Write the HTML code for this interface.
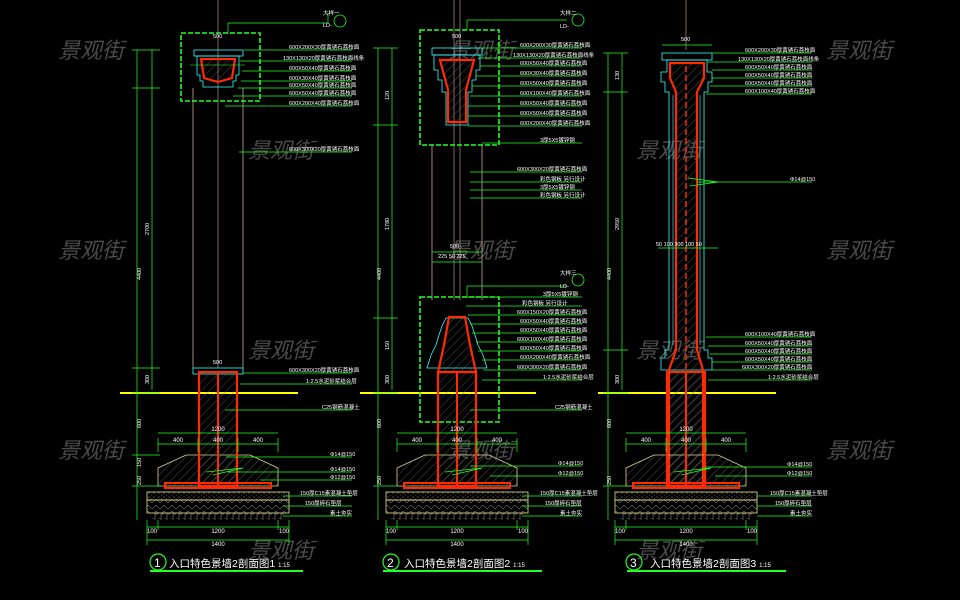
<!DOCTYPE html>
<html><head><meta charset="utf-8"><style>
html,body{margin:0;padding:0;background:#000;}
svg{display:block}
.t{font-family:"Liberation Sans","Noto Sans CJK SC",sans-serif;}
</style></head><body>
<svg width="960" height="600" viewBox="0 0 960 600" xmlns="http://www.w3.org/2000/svg" class="t">
<defs>
<pattern id="hatch" width="6" height="6" patternUnits="userSpaceOnUse" patternTransform="rotate(45)">
<line x1="0" y1="0" x2="0" y2="6" stroke="#777" stroke-width="0.6"/></pattern>
<pattern id="dots" width="5" height="4" patternUnits="userSpaceOnUse">
<circle cx="1" cy="1" r="0.5" fill="#bbb"/><circle cx="3.5" cy="3" r="0.4" fill="#999"/></pattern>
<pattern id="grav" width="8" height="6" patternUnits="userSpaceOnUse">
<path d="M0 3 Q2 0 4 3 T8 3" fill="none" stroke="#aaa" stroke-width="0.5"/></pattern>
<pattern id="soil" width="6" height="7" patternUnits="userSpaceOnUse">
<path d="M0 0 H3 V7 M3 3 H6" fill="none" stroke="#999" stroke-width="0.5"/></pattern>
<g id="foot">
<polygon points="-60,486 -60,468 -32,455 32,455 60,468 60,486" fill="url(#hatch)" stroke="#dcd890" stroke-width="0.8"/>
<rect x="-19" y="372" width="38" height="114" fill="url(#hatch)" stroke="#ff2a00" stroke-width="2.2"/>
<line x1="0" y1="372" x2="0" y2="486" stroke="#ff2a00" stroke-width="2"/>
<rect x="-53" y="483" width="106" height="5" fill="none" stroke="#ff2a00" stroke-width="2"/>
<rect x="-71" y="492" width="142" height="8" fill="url(#dots)" stroke="#e6e08a" stroke-width="0.8"/>
<rect x="-71" y="500" width="142" height="13" fill="url(#grav)" stroke="#e6e08a" stroke-width="0.8"/>
<rect x="-66" y="513" width="132" height="7" fill="url(#soil)"/>
<g stroke="#2f2" stroke-width="0.7" fill="none">
<line x1="-60" y1="444" x2="60" y2="444"/><line x1="-60" y1="438" x2="-60" y2="452"/><line x1="-20" y1="438" x2="-20" y2="452"/><line x1="20" y1="438" x2="20" y2="452"/><line x1="60" y1="438" x2="60" y2="452"/>
<line x1="-60" y1="433" x2="60" y2="433"/>
<line x1="-71" y1="527" x2="71" y2="527"/><line x1="-71" y1="540" x2="71" y2="540"/>
<line x1="-71" y1="520" x2="-71" y2="545"/><line x1="-60" y1="520" x2="-60" y2="530"/><line x1="60" y1="520" x2="60" y2="530"/><line x1="71" y1="520" x2="71" y2="545"/>
<path d="M-12 472 L25 468 L-5 475" stroke="#2f2"/>
</g>
<g fill="#fff" font-size="6" text-anchor="middle">
<text x="-40" y="442">400</text><text x="0" y="442">400</text><text x="40" y="442">400</text><text x="0" y="431">1200</text>
<text x="-66" y="533">100</text><text x="0" y="533">1200</text><text x="66" y="533">100</text><text x="0" y="546">1400</text>
</g>
</g>
</defs>

<!-- watermarks -->
<g fill="#4a4a4a" font-size="22" font-style="italic" font-family="'Noto Sans CJK SC',sans-serif">
<text x="58" y="58">景观街</text><text x="448" y="58">景观街</text><text x="826" y="58">景观街</text>
<text x="248" y="158">景观街</text><text x="636" y="158">景观街</text>
<text x="58" y="258">景观街</text><text x="448" y="258">景观街</text><text x="826" y="258">景观街</text>
<text x="248" y="358">景观街</text><text x="636" y="358">景观街</text>
<text x="58" y="458">景观街</text><text x="448" y="458">景观街</text><text x="826" y="458">景观街</text>
<text x="248" y="558">景观街</text><text x="636" y="558">景观街</text>
</g>

<!-- ground lines -->
<g stroke="#ffff00" stroke-width="2">
<line x1="120" y1="393" x2="298" y2="393"/><line x1="360" y1="393" x2="536" y2="393"/><line x1="598" y1="393" x2="776" y2="393"/>
</g>

<!-- ===== Drawing 1 ===== -->
<g>
<line x1="193" y1="88" x2="193" y2="368" stroke="#c8a8a0" stroke-width="0.8"/>
<line x1="243" y1="88" x2="243" y2="368" stroke="#c8a8a0" stroke-width="0.8"/>
<line x1="218" y1="0" x2="218" y2="368" stroke="#c8a8a0" stroke-width="0.6"/>
<rect x="181" y="33" width="79" height="68" fill="none" stroke="#2f2" stroke-width="1.6" stroke-dasharray="5,2"/>
<rect x="194" y="50" width="49" height="6" fill="none" stroke="#3ff" stroke-width="0.8"/>
<path d="M197 56 H239 V75 H236 V81 H233 V87 H203 V81 H200 V75 H197 Z" fill="none" stroke="#3ff" stroke-width="0.8"/>
<path d="M201 59 H235 L232 78 L218 82 L204 78 Z" fill="url(#hatch)" stroke="#ff2a00" stroke-width="2.2"/>
<rect x="193" y="368" width="50" height="6" fill="none" stroke="#3ff" stroke-width="0.8"/>
<line x1="190" y1="65" x2="245" y2="65" stroke="#2f2" stroke-width="0.6"/>
<use href="#foot" x="218"/>
<g stroke="#2f2" stroke-width="0.7">
<line x1="137" y1="50" x2="137" y2="520"/><line x1="152" y1="50" x2="152" y2="390"/>
<line x1="132" y1="50" x2="160" y2="50"/><line x1="132" y1="88" x2="160" y2="88"/><line x1="132" y1="368" x2="160" y2="368"/><line x1="132" y1="393" x2="160" y2="393"/><line x1="132" y1="455" x2="160" y2="455"/><line x1="132" y1="486" x2="160" y2="486"/>
<line x1="328" y1="23" x2="328" y2="13"/><line x1="228" y1="23" x2="328" y2="23"/><line x1="228" y1="23" x2="228" y2="33"/>
<line x1="244" y1="50" x2="352" y2="50"/><line x1="240" y1="61" x2="352" y2="61"/><line x1="242" y1="71" x2="352" y2="71"/><line x1="241" y1="81" x2="352" y2="81"/><line x1="238" y1="88" x2="352" y2="88"/><line x1="233" y1="96" x2="352" y2="96"/><line x1="225" y1="106" x2="352" y2="106"/>
<line x1="239" y1="152" x2="352" y2="152"/>
<line x1="243" y1="373" x2="352" y2="373"/><line x1="240" y1="384" x2="352" y2="384"/><line x1="225" y1="410" x2="352" y2="410"/><line x1="226" y1="457" x2="352" y2="457"/><line x1="228" y1="472" x2="352" y2="472"/><line x1="260" y1="480" x2="352" y2="480"/><line x1="283" y1="496" x2="352" y2="496"/><line x1="283" y1="506" x2="352" y2="506"/><line x1="283" y1="516" x2="352" y2="516"/>
</g>
<circle cx="340" cy="21" r="6" fill="none" stroke="#2f2" stroke-width="0.8"/>
<g fill="#fff" font-size="5.5">
<text x="213" y="38">500</text><text x="213" y="364">500</text>
<text x="289" y="49">600X200X30厚黄锈石荔枝面</text><text x="283" y="60">130X130X20厚黄锈石荔枝面线条</text><text x="289" y="70">600X50X40厚黄锈石荔枝面</text><text x="289" y="80">600X30X40厚黄锈石荔枝面</text><text x="289" y="87">600X50X40厚黄锈石荔枝面</text><text x="289" y="95">600X50X40厚黄锈石荔枝面</text><text x="289" y="105">600X200X40厚黄锈石荔枝面</text>
<text x="289" y="151">600X300X20厚黄锈石荔枝面</text>
<text x="289" y="372">600X300X20厚黄锈石荔枝面</text><text x="306" y="383">1:2.5水泥砂浆结合层</text><text x="322" y="409">C25钢筋混凝土</text>
<text x="330" y="456">Φ14@150</text><text x="330" y="471">Φ14@150</text><text x="330" y="479">Φ12@150</text><text x="300" y="495">150厚C15素混凝土垫层</text><text x="305" y="505">150厚碎石垫层</text><text x="330" y="515">素土夯实</text>
<text x="323" y="15">大样一</text><text x="323" y="27">LD-</text>
</g>
<g fill="#fff" font-size="5.5" transform="rotate(-90)">
<text x="-235" y="149">2700</text><text x="-280" y="141">4400</text><text x="-384" y="149">300</text><text x="-428" y="141">600</text><text x="-467" y="141">150</text><text x="-485" y="141">250</text>
</g>
<circle cx="158" cy="562" r="8" fill="none" stroke="#2f2" stroke-width="1.2"/>
<text x="154" y="567" fill="#fff" font-size="12">1</text>
<text x="169" y="567" fill="#fff" font-size="10.5">入口特色景墙2剖面图1 <tspan font-size="6">1:15</tspan></text>
<line x1="150" y1="571" x2="303" y2="571" stroke="#2f2" stroke-width="2"/>
</g>

<!-- ===== Drawing 2 ===== -->
<g>
<line x1="432" y1="145" x2="432" y2="300" stroke="#c8a8a0" stroke-width="0.8"/>
<line x1="482" y1="145" x2="482" y2="300" stroke="#c8a8a0" stroke-width="0.8"/>
<line x1="454" y1="0" x2="454" y2="300" stroke="#c8a8a0" stroke-width="0.6"/><line x1="460" y1="0" x2="460" y2="300" stroke="#c8a8a0" stroke-width="0.6"/>
<rect x="420" y="30" width="79" height="115" fill="none" stroke="#2f2" stroke-width="1.6" stroke-dasharray="5,2"/>
<rect x="420" y="297" width="79" height="125" fill="none" stroke="#2f2" stroke-width="1.6" stroke-dasharray="5,2"/>
<rect x="432" y="48" width="50" height="7" fill="none" stroke="#3ff" stroke-width="0.8"/>
<path d="M434 55 H480 V70 H476 V80 H472 V92 H468 V125 H446 V92 H442 V80 H438 V70 H434 Z" fill="none" stroke="#3ff" stroke-width="0.8"/>
<path d="M440 60 H474 L466 90 V122 H448 V90 Z" fill="url(#hatch)" stroke="#ff2a00" stroke-width="2.2"/>
<path d="M446 318 H468 L472 326 L475 335 L478 345 L483 355 L487 368 H427 L431 355 L436 345 L439 335 L442 326 Z" fill="none" stroke="#3ff" stroke-width="0.8"/>
<path d="M449 317 H465 L470 345 L476 372 H438 L444 345 Z" fill="url(#hatch)" stroke="#ff2a00" stroke-width="2.2"/>
<use href="#foot" x="457"/>
<g stroke="#2f2" stroke-width="0.7">
<line x1="378" y1="48" x2="378" y2="520"/><line x1="392" y1="48" x2="392" y2="390"/>
<line x1="373" y1="48" x2="398" y2="48"/><line x1="373" y1="125" x2="398" y2="125"/><line x1="373" y1="318" x2="398" y2="318"/><line x1="373" y1="393" x2="398" y2="393"/><line x1="373" y1="486" x2="398" y2="486"/>
<line x1="432" y1="252" x2="482" y2="252"/><line x1="432" y1="262" x2="482" y2="262"/>
<line x1="467" y1="20" x2="567" y2="20"/><line x1="467" y1="20" x2="467" y2="30"/>
<line x1="467" y1="286" x2="567" y2="286"/><line x1="467" y1="286" x2="467" y2="297"/>
<line x1="480" y1="48" x2="582" y2="48"/><line x1="478" y1="58" x2="582" y2="58"/><line x1="480" y1="66" x2="582" y2="66"/><line x1="476" y1="76" x2="582" y2="76"/><line x1="472" y1="86" x2="582" y2="86"/><line x1="470" y1="96" x2="582" y2="96"/><line x1="468" y1="106" x2="582" y2="106"/><line x1="468" y1="116" x2="582" y2="116"/><line x1="468" y1="126" x2="582" y2="126"/>
<line x1="482" y1="143" x2="582" y2="143"/><line x1="470" y1="172" x2="582" y2="172"/><line x1="470" y1="182" x2="582" y2="182"/><line x1="470" y1="190" x2="582" y2="190"/><line x1="470" y1="198" x2="582" y2="198"/>
<line x1="466" y1="297" x2="582" y2="297"/><line x1="466" y1="306" x2="582" y2="306"/><line x1="468" y1="315" x2="582" y2="315"/><line x1="470" y1="324" x2="582" y2="324"/><line x1="472" y1="333" x2="582" y2="333"/><line x1="476" y1="342" x2="582" y2="342"/><line x1="478" y1="351" x2="582" y2="351"/><line x1="482" y1="360" x2="582" y2="360"/><line x1="483" y1="370" x2="582" y2="370"/><line x1="482" y1="380" x2="582" y2="380"/>
<line x1="470" y1="410" x2="582" y2="410"/><line x1="470" y1="466" x2="582" y2="466"/><line x1="490" y1="476" x2="582" y2="476"/><line x1="522" y1="496" x2="582" y2="496"/><line x1="522" y1="506" x2="582" y2="506"/><line x1="522" y1="516" x2="582" y2="516"/>
</g>
<circle cx="578" cy="20" r="6" fill="none" stroke="#2f2" stroke-width="0.8"/><circle cx="578" cy="280" r="6" fill="none" stroke="#2f2" stroke-width="0.8"/>
<g fill="#fff" font-size="5.5">
<text x="452" y="38">500</text><text x="450" y="248">500</text><text x="438" y="258">225 50 225</text>
<text x="520" y="47">600X200X30厚黄锈石荔枝面</text><text x="513" y="57">130X130X20厚黄锈石荔枝面线条</text><text x="520" y="65">600X50X40厚黄锈石荔枝面</text><text x="520" y="75">600X30X40厚黄锈石荔枝面</text><text x="520" y="85">600X50X40厚黄锈石荔枝面</text><text x="520" y="95">600X100X40厚黄锈石荔枝面</text><text x="520" y="105">600X50X40厚黄锈石荔枝面</text><text x="520" y="115">600X50X40厚黄锈石荔枝面</text><text x="520" y="125">600X200X40厚黄锈石荔枝面</text>
<text x="540" y="142">3厚5X5镀锌钢</text><text x="517" y="171">600X300X20厚黄锈石荔枝面</text><text x="540" y="181">彩色钢板 另行设计</text><text x="540" y="189">3厚5X5镀锌钢</text><text x="540" y="197">彩色钢板 另行设计</text>
<text x="543" y="296">3厚5X5镀锌钢</text><text x="522" y="305">彩色钢板 另行设计</text><text x="517" y="314">600X150X20厚黄锈石荔枝面</text><text x="520" y="323">600X50X40厚黄锈石荔枝面</text><text x="520" y="332">600X50X40厚黄锈石荔枝面</text><text x="517" y="341">600X100X40厚黄锈石荔枝面</text><text x="520" y="350">600X50X40厚黄锈石荔枝面</text><text x="520" y="359">600X200X40厚黄锈石荔枝面</text><text x="517" y="369">600X300X20厚黄锈石荔枝面</text><text x="543" y="379">1:2.5水泥砂浆结合层</text>
<text x="555" y="409">C25钢筋混凝土</text><text x="558" y="465">Φ14@150</text><text x="558" y="475">Φ12@150</text><text x="540" y="495">150厚C15素混凝土垫层</text><text x="545" y="505">150厚碎石垫层</text><text x="560" y="515">素土夯实</text>
<text x="560" y="15">大样二</text><text x="560" y="28">LD-</text><text x="560" y="275">大样三</text><text x="560" y="288">LD-</text>
</g>
<g fill="#fff" font-size="5.5" transform="rotate(-90)">
<text x="-230" y="389">1780</text><text x="-280" y="381">4400</text><text x="-384" y="389">300</text><text x="-428" y="381">600</text><text x="-485" y="381">250</text><text x="-350" y="389">150</text><text x="-100" y="389">120</text>
</g>
<circle cx="391" cy="562" r="8" fill="none" stroke="#2f2" stroke-width="1.2"/>
<text x="387" y="567" fill="#fff" font-size="12">2</text>
<text x="404" y="567" fill="#fff" font-size="10.5">入口特色景墙2剖面图2 <tspan font-size="6">1:15</tspan></text>
<line x1="383" y1="571" x2="542" y2="571" stroke="#2f2" stroke-width="2"/>
</g>

<!-- ===== Drawing 3 ===== -->
<g>
<line x1="686" y1="0" x2="686" y2="50" stroke="#c8a8a0" stroke-width="0.6"/>
<rect x="662" y="53" width="50" height="7" fill="none" stroke="#3ff" stroke-width="0.8"/>
<path d="M667 60 H707 V72 H712 V82 H708 V92 H704 V350 H708 V358 H712 V370 H661 V358 H665 V350 H669 V92 H665 V82 H661 V72 H667 Z" fill="none" stroke="#3ff" stroke-width="0.8"/>
<line x1="673" y1="95" x2="673" y2="345" stroke="#3ff" stroke-width="0.6"/><line x1="700" y1="95" x2="700" y2="345" stroke="#3ff" stroke-width="0.6"/>
<path d="M670 63 H704 V78 L697 92 V350 L703 370 V486 H669 V370 L676 350 V92 L670 78 Z" fill="url(#hatch)" stroke="#ff2a00" stroke-width="2.2"/>
<line x1="686" y1="66" x2="686" y2="486" stroke="#ff2a00" stroke-width="1.5" stroke-dasharray="6,3"/>
<use href="#foot" x="686"/>
<g stroke="#2f2" stroke-width="0.7">
<line x1="608" y1="53" x2="608" y2="520"/><line x1="622" y1="53" x2="622" y2="390"/>
<line x1="603" y1="53" x2="628" y2="53"/><line x1="603" y1="92" x2="628" y2="92"/><line x1="603" y1="350" x2="628" y2="350"/><line x1="603" y1="393" x2="628" y2="393"/><line x1="603" y1="486" x2="628" y2="486"/>
<line x1="662" y1="45" x2="712" y2="45"/><line x1="658" y1="248" x2="718" y2="248"/>
<line x1="712" y1="53" x2="812" y2="53"/><line x1="708" y1="62" x2="812" y2="62"/><line x1="712" y1="70" x2="812" y2="70"/><line x1="712" y1="78" x2="812" y2="78"/><line x1="710" y1="86" x2="812" y2="86"/><line x1="706" y1="94" x2="812" y2="94"/>
<line x1="697" y1="182" x2="812" y2="182"/>
<line x1="706" y1="337" x2="812" y2="337"/><line x1="708" y1="346" x2="812" y2="346"/><line x1="710" y1="354" x2="812" y2="354"/><line x1="712" y1="362" x2="812" y2="362"/><line x1="712" y1="370" x2="812" y2="370"/><line x1="708" y1="380" x2="812" y2="380"/>
<line x1="705" y1="467" x2="812" y2="467"/><line x1="715" y1="476" x2="812" y2="476"/><line x1="757" y1="496" x2="812" y2="496"/><line x1="757" y1="506" x2="812" y2="506"/><line x1="757" y1="516" x2="812" y2="516"/>
<path d="M688 178 L718 182 L690 186" fill="none"/>
</g>
<g fill="#fff" font-size="5.5">
<text x="681" y="41">500</text><text x="656" y="246">50  100  300  100  50</text>
<text x="745" y="52">600X200X30厚黄锈石荔枝面</text><text x="738" y="61">130X130X20厚黄锈石荔枝面线条</text><text x="745" y="69">600X50X40厚黄锈石荔枝面</text><text x="745" y="77">600X50X40厚黄锈石荔枝面</text><text x="745" y="85">600X50X40厚黄锈石荔枝面</text><text x="745" y="93">600X100X40厚黄锈石荔枝面</text>
<text x="790" y="181">Φ14@150</text>
<text x="745" y="336">600X100X40厚黄锈石荔枝面</text><text x="745" y="345">600X50X40厚黄锈石荔枝面</text><text x="745" y="353">600X50X40厚黄锈石荔枝面</text><text x="745" y="361">600X50X40厚黄锈石荔枝面</text><text x="742" y="369">600X300X20厚黄锈石荔枝面</text><text x="768" y="379">1:2.5水泥砂浆结合层</text>
<text x="787" y="466">Φ14@150</text><text x="787" y="475">Φ12@150</text><text x="770" y="495">150厚C15素混凝土垫层</text><text x="775" y="505">150厚碎石垫层</text><text x="790" y="515">素土夯实</text>
</g>
<g fill="#fff" font-size="5.5" transform="rotate(-90)">
<text x="-230" y="619">2950</text><text x="-280" y="611">4400</text><text x="-384" y="619">300</text><text x="-428" y="611">600</text><text x="-485" y="611">250</text><text x="-80" y="619">130</text>
</g>
<circle cx="634" cy="562" r="8" fill="none" stroke="#2f2" stroke-width="1.2"/>
<text x="630" y="567" fill="#fff" font-size="12">3</text>
<text x="650" y="567" fill="#fff" font-size="10.5">入口特色景墙2剖面图3 <tspan font-size="6">1:15</tspan></text>
<line x1="627" y1="571" x2="786" y2="571" stroke="#2f2" stroke-width="2"/>
</g>
</svg>
</body></html>
